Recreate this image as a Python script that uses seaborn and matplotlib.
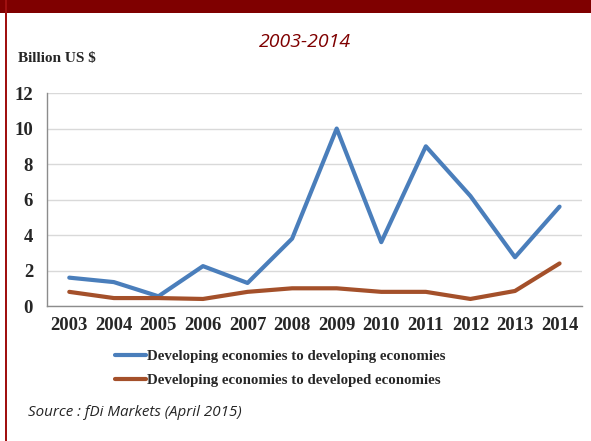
import matplotlib
matplotlib.use("Agg")
import matplotlib.pyplot as plt
from matplotlib.patches import Rectangle
from matplotlib.ticker import FixedLocator
import pandas as pd
import seaborn as sns

YEARS = ["2003", "2004", "2005", "2006", "2007", "2008",
         "2009", "2010", "2011", "2012", "2013", "2014"]
DEV_TO_DEV = [1.6, 1.35, 0.55, 2.25, 1.3, 3.8, 10.0, 3.6, 9.0, 6.2, 2.75, 5.6]
DEV_TO_DEVELOPED = [0.8, 0.45, 0.45, 0.4, 0.8, 1.0, 1.0, 0.8, 0.8, 0.4, 0.85, 2.4]
SERIES = ["Developing economies to developing economies",
          "Developing economies to developed economies"]
COLORS = ["#4A7EBB", "#A4502A"]
DARK_RED = "#7F0000"

sns.set_theme(style="white")
plt.rcParams["font.family"] = ["Liberation Serif", "DejaVu Sans"]

df = pd.DataFrame({
    "pos": list(range(len(YEARS))) * 2,
    "value": DEV_TO_DEV + DEV_TO_DEVELOPED,
    "series": [SERIES[0]] * len(YEARS) + [SERIES[1]] * len(YEARS),
})

fig = plt.figure(figsize=(5.91, 4.41), dpi=100)
ax = fig.add_axes([0.0795, 0.306, 0.905, 0.483])

sns.lineplot(data=df, x="pos", y="value", hue="series", palette=COLORS,
             linewidth=3, ax=ax, legend=False, sort=False)

# Axes aesthetics
ax.set_xlim(-0.5, len(YEARS) - 0.5)
ax.set_ylim(0, 12)
ax.set_yticks(range(0, 13, 2))
ax.set_xticks(range(len(YEARS)))
ax.set_xticklabels(YEARS)
ax.xaxis.set_minor_locator(FixedLocator([i - 0.5 for i in range(len(YEARS) + 1)]))
ax.tick_params(axis="x", which="major", length=0, pad=8, labelsize=13.5)
ax.tick_params(axis="x", which="minor", length=4, color="#8C8C8C", direction="out")
ax.tick_params(axis="y", length=4, color="#8C8C8C", direction="out", labelsize=13.5, pad=6)
for lab in ax.get_xticklabels() + ax.get_yticklabels():
    lab.set_fontweight("bold")
ax.grid(axis="y", color="#D9D9D9", linewidth=1)
ax.set_axisbelow(True)
ax.set_xlabel("")
ax.set_ylabel("")
for side in ["top", "right"]:
    ax.spines[side].set_visible(False)
for side in ["left", "bottom"]:
    ax.spines[side].set_color("#8C8C8C")
    ax.spines[side].set_linewidth(1)

# Legend
handles = [plt.Line2D([], [], color=c, linewidth=3) for c in COLORS]
fig.legend(handles, SERIES, loc="upper center", bbox_to_anchor=(0.474, 0.221),
           frameon=False, prop={"weight": "bold", "size": 10.7},
           handlelength=2.1, handletextpad=0.1, labelspacing=0.75,
           borderaxespad=0)

# Texts
fig.text(0.516, 0.905, "2003-2014", ha="center", va="center", color=DARK_RED,
         fontsize=14, style="italic", family=["Open Sans", "DejaVu Sans"])
fig.text(0.03, 0.868, "Billion US $", ha="left", va="center", fontsize=11,
         fontweight="bold")
fig.text(0.047, 0.064, "Source : fDi Markets (April 2015)", ha="left", va="center",
         fontsize=10.9, style="italic", family=["Open Sans", "DejaVu Sans"])

# Frame decorations
fig.patches.append(Rectangle((0, 0.97), 1, 0.03, transform=fig.transFigure,
                             facecolor=DARK_RED, edgecolor="none"))
fig.patches.append(Rectangle((0.008, 0), 0.004, 1, transform=fig.transFigure,
                             facecolor="#A01010", edgecolor="none"))

fig.savefig("out.png", dpi=100)
